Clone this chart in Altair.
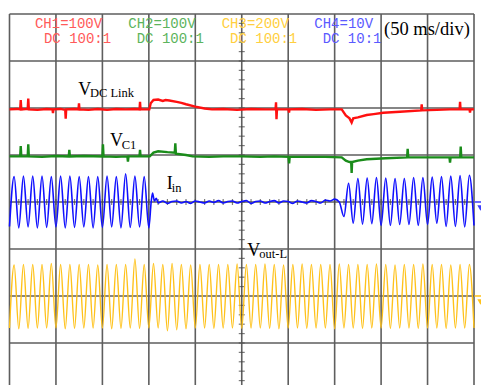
import altair as alt
import pandas as pd
import numpy as np

# ---- scope frame: 50 ms/div x 10 div ; vertical in divisions (8 div, image cut at bottom)
T_MIN, T_MAX = 0, 500
V_TOP, V_BOTTOM = 4.0, -3.894
PERIOD_MS = 10          # read: 5 cycles per division
CH3_OFFSET = -2.0       # Vout-L ground level (div)
CH4_OFFSET = 0.0        # Iin ground level (div)

# ---- CH1 V_DC Link (red) polyline readings (ms, div)
red_t = [0, 8, 11.5, 12.1, 12.7, 19.6, 20.2, 20.8, 30, 40, 46.3, 46.8, 47.3, 55, 60, 60.5, 61,
         70, 74.3, 74.8, 75.3, 85, 95, 105, 115, 125, 135, 140, 140.5, 141, 150.5, 152, 155,
         160, 165, 168, 172, 180, 185, 190, 200, 210, 218, 230, 245, 260, 275, 286.4, 286.9,
         287.4, 287.9, 300.4, 300.9, 301.4, 315, 330, 345, 357.6, 362, 366, 368.3, 370, 375,
         384.5, 392, 402.4, 420.3, 443.2, 443.7, 444.2, 460, 474, 484.5, 485, 485.5, 495.2,
         495.7, 496.2, 500]
red_v = [1.97, 1.98, 1.97, 2.17, 1.97, 1.98, 2.20, 1.97, 1.96, 1.98, 1.97, 1.89, 1.97, 1.98,
         1.96, 1.77, 1.97, 1.98, 1.97, 2.10, 1.97, 1.96, 1.98, 1.96, 1.98, 1.97, 1.98, 1.97,
         2.13, 1.97, 1.97, 2.10, 2.17, 2.18, 2.15, 2.17, 2.16, 2.13, 2.11, 2.08, 2.03, 1.99,
         1.97, 1.98, 1.96, 1.98, 1.97, 1.97, 2.12, 1.76, 1.97, 1.97, 1.90, 1.97, 1.98, 1.96,
         1.97, 1.97, 1.84, 1.78, 1.69, 1.78, 1.80, 1.85, 1.87, 1.90, 1.92, 1.95, 2.08, 1.95,
         1.96, 1.97, 1.97, 2.13, 1.97, 1.97, 1.90, 1.97, 1.97]

# ---- CH2 V_C1 (green) polyline readings (ms, div)
green_t = [0, 11.5, 12.1, 12.7, 19.6, 20.2, 20.8, 35, 50, 63.8, 64.4, 65, 80, 100, 100.6, 101.2,
           115, 126.9, 127.5, 128.1, 139.9, 140.5, 141.1, 151, 155, 160, 170, 177.9, 178.5,
           179.1, 190, 197, 215, 230, 250, 270, 285, 300.4, 301, 301.6, 320, 340, 357.6, 362,
           366, 367.8, 368.3, 368.8, 375, 384.5, 405, 428, 428.6, 429.2, 450, 473.6, 474.2,
           474.8, 485.1, 485.7, 486.3, 500]
green_v = [0.97, 0.97, 1.19, 0.97, 0.97, 1.23, 0.97, 0.96, 0.98, 0.97, 1.11, 0.97, 0.98, 0.97,
           1.23, 0.97, 0.96, 0.97, 0.86, 0.97, 0.97, 1.11, 0.97, 0.97, 1.05, 1.08, 1.06, 1.05,
           1.25, 1.03, 1.00, 0.97, 0.96, 0.97, 0.97, 0.96, 0.97, 0.96, 0.82, 0.96, 0.96, 0.96,
           0.95, 0.88, 0.85, 0.85, 0.62, 0.85, 0.88, 0.91, 0.93, 0.95, 1.13, 0.95, 0.95, 0.95,
           0.84, 0.95, 0.95, 1.18, 0.95, 0.95]

# ---- CH4 Iin (blue): extrema before the step (troughs t=0..150, peaks t=5..145)
blue_pre_troughs = [-0.52, -0.55, -0.53, -0.55, -0.54, -0.53, -0.55, -0.54, -0.53, -0.55,
                    -0.54, -0.53, -0.55, -0.54, -0.53, -0.55]
blue_pre_peaks = [0.54, 0.55, 0.55, 0.55, 0.54, 0.55, 0.55, 0.54, 0.54, 0.54, 0.55, 0.54,
                  0.60, 0.55, 0.54]
# flat part (ms, div)
blue_mid_t = [152.5, 154, 156, 158, 160, 165, 170, 175, 180, 185, 190, 195, 200, 205, 210, 215,
              220, 225, 230, 235, 240, 245, 250, 255, 260, 265, 270, 275, 280, 285, 290, 295,
              300, 305, 310, 315, 320, 325, 330, 335, 340, 345, 350, 355]
blue_mid_v = [0.00, 0.19, 0.02, 0.08, -0.02, 0.02, -0.03, 0.01, 0.02, -0.02, 0.01, -0.03, 0.02,
              0.00, -0.02, 0.02, -0.01, 0.03, -0.02, 0.01, 0.02, -0.02, 0.01, 0.03, -0.03, 0.01,
              0.02, -0.02, 0.01, 0.03, -0.02, 0.02, 0.01, -0.03, 0.02, 0.00, -0.02, 0.03, 0.01,
              -0.02, 0.04, 0.02, 0.06, 0.00]
BLUE_RESUME_T = 360
blue_post_troughs = [-0.31, -0.45, -0.47, -0.46, -0.50, -0.50, -0.48, -0.48, -0.50, -0.48,
                     -0.45, -0.52, -0.52, -0.53, -0.50]
blue_post_peaks = [0.40, 0.50, 0.51, 0.52, 0.51, 0.50, 0.50, 0.52, 0.52, 0.53, 0.54, 0.55,
                   0.56, 0.57]

# ---- CH3 Vout-L (yellow): extrema relative to its ground (troughs t=0..500, peaks t=5..495)
yellow_peaks = [0.66, 0.67, 0.67, 0.67, 0.69, 0.67, 0.67, 0.67, 0.67, 0.66, 0.67, 0.67, 0.67,
                0.79, 0.67, 0.69, 0.67, 0.69, 0.67, 0.66, 0.67, 0.67, 0.67, 0.67, 0.68, 0.67,
                0.67, 0.68, 0.67, 0.66, 0.67, 0.68, 0.67, 0.67, 0.67, 0.68, 0.67, 0.67, 0.67,
                0.68, 0.67, 0.66, 0.67, 0.67, 0.68, 0.67, 0.67, 0.66, 0.67, 0.67]
yellow_troughs = [-0.68, -0.70, -0.69, -0.68, -0.68, -0.68, -0.70, -0.69, -0.68, -0.68, -0.68,
                  -0.70, -0.69, -0.68, -0.69, -0.68, -0.68, -0.74, -0.72, -0.70, -0.68, -0.68,
                  -0.69, -0.68, -0.68, -0.69, -0.68, -0.68, -0.69, -0.70, -0.68, -0.68, -0.69,
                  -0.68, -0.68, -0.70, -0.68, -0.68, -0.69, -0.68, -0.68, -0.69, -0.68, -0.68,
                  -0.69, -0.68, -0.68, -0.69, -0.68, -0.68, -0.68]

# ---- texts
header_labels = ["CH1=100V", "DC 100:1", "CH2=100V", "DC 100:1",
                 "CH3=200V", "DC 100:1", "CH4=10V", "DC 10:1"]
header_colors = ["#ff5a5a", "#ff5a5a", "#5cb45c", "#5cb45c",
                 "#ffcf40", "#ffcf40", "#5a5aff", "#5a5aff"]
header_t = [27.4, 37.1, 127.9, 136.9, 228.4, 237.4, 328.1, 337.1]
header_v = [3.696, 3.377] * 4

main_labels = ["V", "V", "I", "V"]
main_t = [74.1, 108.2, 169.2, 256.0]
main_v = [2.277, 1.191, 0.277, -1.143]
sub_labels = ["DC Link", "C1", "in", "out-L"]
sub_t = [86.6, 120.8, 174.6, 268.9]
sub_v = [2.228, 1.121, 0.219, -1.198]

# ---------------- build tables
half = PERIOD_MS / 2
pts = []
pts += [(t, v, "red") for t, v in zip(red_t, red_v)]
pts += [(t, v, "green") for t, v in zip(green_t, green_v)]
blue = [(k * PERIOD_MS, v) for k, v in enumerate(blue_pre_troughs)]
blue += [(half + k * PERIOD_MS, v) for k, v in enumerate(blue_pre_peaks)]
blue += list(zip(blue_mid_t, blue_mid_v))
blue += [(BLUE_RESUME_T + k * PERIOD_MS, v) for k, v in enumerate(blue_post_troughs)]
blue += [(BLUE_RESUME_T + half + k * PERIOD_MS, v) for k, v in enumerate(blue_post_peaks)]
pts += [(t, v + CH4_OFFSET, "blue") for t, v in blue]
yel = [(k * PERIOD_MS, v) for k, v in enumerate(yellow_troughs)]
yel += [(half + k * PERIOD_MS, v) for k, v in enumerate(yellow_peaks)]
pts += [(t, v + CH3_OFFSET, "yellow") for t, v in yel]
df = pd.DataFrame(pts, columns=["t", "v", "ch"]).sort_values(["ch", "t"])

xs = alt.Scale(domain=[T_MIN, T_MAX], nice=False, zero=False)
ys = alt.Scale(domain=[V_BOTTOM, V_TOP], nice=False, zero=False)
X = alt.X("t:Q", scale=xs, axis=None)
Y = alt.Y("v:Q", scale=ys, axis=None)

GRID = "#5e5e5e"
vgrid = alt.Chart(pd.DataFrame({"t": np.arange(T_MIN, T_MAX + 1, 50)})).mark_rule(
    color=GRID, strokeWidth=1.6).encode(x=X)
hgrid = alt.Chart(pd.DataFrame({"v": np.arange(-3, 4.01, 1.0)})).mark_rule(
    color=GRID, strokeWidth=1.6).encode(y=Y)
vticks = alt.Chart(pd.DataFrame({"v": np.arange(-3.8, 4.0, 0.2), "t": 250})).mark_tick(
    orient="horizontal", size=6, thickness=1.2, color="#444444").encode(x=X, y=Y)
hticks = alt.Chart(pd.DataFrame({"t": np.arange(10, 500, 10), "v": 0.0})).mark_tick(
    orient="vertical", size=6, thickness=1.2, color="#444444").encode(x=X, y=Y)

def trace(ch, color, width, interp):
    return alt.Chart(df[df.ch == ch]).mark_line(
        color=color, strokeWidth=width, interpolate=interp).encode(x=X, y=Y, order="t:Q")

red = trace("red", "#ff1010", 2.4, "linear")
green = trace("green", "#1a8c1a", 2.4, "linear")
bl = trace("blue", "#1010ff", 1.6, "monotone")
yl = trace("yellow", "#ffc21a", 1.4, "monotone")

# ground markers at right edge
gm = pd.DataFrame({"t": [500.5, 500.5], "t2": [508.0, 508.0], "v": [CH4_OFFSET, CH3_OFFSET],
                   "c": ["#3c3cff", "#ffc21a"]})
gm_rule = alt.Chart(gm).mark_rule(strokeWidth=1.5).encode(
    x=X, x2="t2:Q", y=Y, color=alt.Color("c:N", scale=None))
gm_pt = alt.Chart(gm).mark_point(shape="triangle-down", filled=True, size=40, yOffset=6,
                                 xOffset=6, opacity=1).encode(
    x=X, y=Y, color=alt.Color("c:N", scale=None))

hdr = alt.Chart(pd.DataFrame({"t": header_t, "v": header_v, "label": header_labels,
                              "c": header_colors})).mark_text(
    font="Liberation Mono", fontSize=14, align="left", baseline="alphabetic").encode(
    x=X, y=Y, text="label:N", color=alt.Color("c:N", scale=None))
scale_lbl = alt.Chart(pd.DataFrame({"t": [403.1], "v": [3.553], "label": ["(50 ms/div)"]})).mark_text(
    font="Liberation Serif", fontSize=18.5, align="left", baseline="alphabetic",
    color="black").encode(x=X, y=Y, text="label:N")
mains = alt.Chart(pd.DataFrame({"t": main_t, "v": main_v, "label": main_labels})).mark_text(
    font="Liberation Serif", fontSize=18, align="left", baseline="alphabetic",
    color="black").encode(x=X, y=Y, text="label:N")
subs = alt.Chart(pd.DataFrame({"t": sub_t, "v": sub_v, "label": sub_labels})).mark_text(
    font="Liberation Serif", fontSize=12.5, align="left", baseline="alphabetic",
    color="black").encode(x=X, y=Y, text="label:N")

chart = alt.layer(vgrid, hgrid, vticks, hticks, yl, bl, green, red, gm_rule, gm_pt,
                  hdr, scale_lbl, mains, subs).properties(
    width=464.5, height=371,
    autosize=alt.AutoSizeParams(type="none"),
    padding={"left": 1.5, "top": 6, "right": 7, "bottom": 0},
    background="white",
).configure_view(strokeWidth=0)

chart.save("out.html", embed_options={"renderer": "svg", "actions": False})
